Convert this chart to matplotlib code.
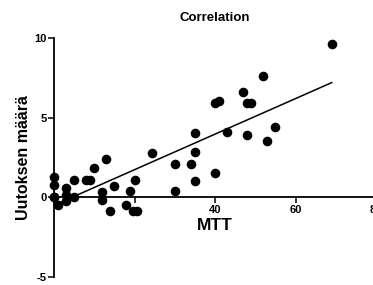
import matplotlib
matplotlib.use("Agg")
import matplotlib.pyplot as plt

plt.rcParams['font.family'] = ['Liberation Sans', 'DejaVu Sans']

mtt = [0, 0, 0, 0, 1, 3, 3, 3, 5, 5, 8, 9, 10, 13, 12, 12, 15, 14, 18, 19, 20, 19.6, 20.5,
       24.3, 30, 30, 34, 35, 35, 35, 40, 40, 41, 43, 47, 48, 49, 48, 52, 53, 55, 69]
uutos = [1.25, 0.8, 0.05, 0.0, -0.45, 0.6, -0.2, 0.15, 1.1, 0.02, 1.07, 1.07, 1.85, 2.4, 0.35, -0.14,
         0.69, -0.88, -0.46, 0.38, 1.07, -0.84, -0.86,
         2.8, 2.1, 0.38, 2.1, 4.05, 2.85, 1.06, 1.54, 5.9, 6.05, 4.1, 6.6, 5.9, 5.93, 3.94,
         7.6, 3.54, 4.38, 9.6]
fit_x = [0, 69]
fit_y = [-0.49, 7.19]

xticks = [0, 20, 40, 60, 80]
xticklabels = ['', '', '40', '60', '80']
yticks = [-5, 0, 5, 10]
yticklabels = ['-5', '0', '5', '10']

fig = plt.figure(figsize=(3.73, 2.85), dpi=100)
ax = fig.add_axes([0.1448, 0.027, 0.8633, 0.8407])
ax.scatter(mtt, uutos, s=48, color='black', zorder=3, clip_on=False, linewidths=0)
ax.plot(fit_x, fit_y, color='black', lw=1.1, zorder=2)

ax.set_xlim(0, 80)
ax.set_ylim(-5, 10)
ax.spines['top'].set_visible(False)
ax.spines['right'].set_visible(False)
ax.spines['bottom'].set_position(('data', 0))
ax.spines['left'].set_linewidth(1.3)
ax.spines['bottom'].set_linewidth(1.3)
ax.set_xticks(xticks)
ax.set_xticklabels(xticklabels, fontsize=8, fontweight='bold')
ax.set_yticks(yticks)
ax.set_yticklabels(yticklabels, fontsize=8, fontweight='bold')
ax.tick_params(axis='both', direction='out', length=4, width=1.1, pad=1.5)
ax.set_xlabel('MTT', fontsize=12.5, fontweight='bold', labelpad=2)
ax.set_ylabel('Uutoksen määrä', fontsize=11.5, fontweight='bold', labelpad=2)
ax.set_title('Correlation', fontsize=9.5, fontweight='bold', pad=12)

fig.savefig('out.png', dpi=100)
